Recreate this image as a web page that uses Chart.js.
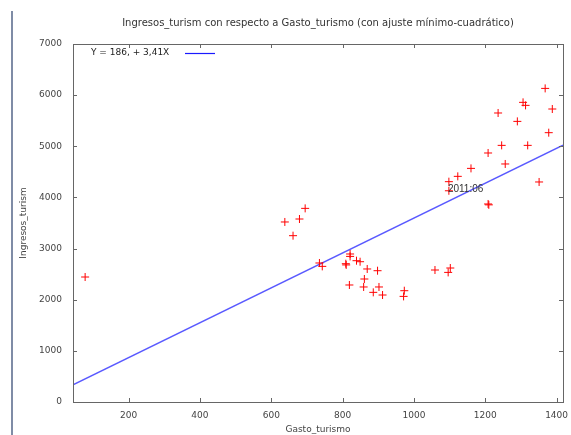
<!DOCTYPE html>
<html>
<head>
<meta charset="utf-8">
<script src="https://cdn.jsdelivr.net/npm/chart.js@4/dist/chart.umd.min.js"></script>
<style>
  body { margin: 0; background: #fff; }
  #wrap { position: relative; width: 571px; height: 435px; }
  #edge { position: absolute; left: 11px; top: 11px; width: 2px; height: 424px; background: #7f8ca6; }
</style>
</head>
<body>
<div id="wrap">
  <canvas id="myChart" width="571" height="435"></canvas>
  <div id="edge"></div>
</div>
<script>
// Gasto_turismo (x) vs Ingresos_turism (y), one point per month
const gasto = [
  78, 638, 661, 679, 695, 735, 743, 809, 810, 821, 821, 839, 849, 869, 898,
  819, 861, 859, 902, 886, 912, 973, 971, 1059, 1102, 1096, 1098, 1098, 1123,
  1160, 1208, 1208, 1210, 1236, 1246, 1256, 1290, 1306, 1313, 1319, 1351,
  1368, 1378, 1388
];
const ingresos = [
  2444, 3520, 3252, 3578, 3786, 2718, 2652, 2704, 2680, 2894, 2847, 2763, 2743,
  2601, 2567, 2288, 2405, 2249, 2249, 2144, 2092, 2176, 2065, 2581, 2620, 2534,
  4308, 4130, 4412, 4568, 4869, 3872, 3855, 5651, 5018, 4654, 5487, 5859, 5800,
  5018, 4302, 6132, 5266, 5729
];
// point that carries an observation label
const markedIndex = 27;
const markedLabel = "2011:06";

// least-squares fit shown in the key
const intercept = 186;
const slope = 3.41;
const fitLabel = "Y = 186, + 3,41X";

const chartTitle = "Ingresos_turism con respecto a Gasto_turismo (con ajuste mínimo-cuadrático)";
const xRange = [44, 1418];
const yRange = [0, 7000];
const xTicks = [200, 400, 600, 800, 1000, 1200, 1400];
const yTicks = [0, 1000, 2000, 3000, 4000, 5000, 6000, 7000];

const points = gasto.map((g, i) => ({ x: g, y: ingresos[i] }));
const fitLine = xRange.map(x => ({ x: x, y: intercept + slope * x }));

const txt = "#444";
const baseFont = { family: "DejaVu Sans", size: 9 };

// frame with inward ticks on all four sides, title, key and point label
const framePlugin = {
  id: "frame",
  afterDraw(chart) {
    const { ctx, chartArea: a, scales } = chart;
    ctx.save();
    ctx.strokeStyle = "#666";
    ctx.lineWidth = 1;
    ctx.strokeRect(Math.round(a.left) + 0.5, Math.round(a.top) + 0.5,
      Math.round(a.right - a.left), Math.round(a.bottom - a.top));
    ctx.beginPath();
    xTicks.forEach(v => {
      const px = Math.round(scales.x.getPixelForValue(v)) + 0.5;
      ctx.moveTo(px, a.bottom); ctx.lineTo(px, a.bottom - 4);
      ctx.moveTo(px, a.top); ctx.lineTo(px, a.top + 4);
    });
    yTicks.forEach(v => {
      const py = Math.round(scales.y.getPixelForValue(v)) + 0.5;
      ctx.moveTo(a.left, py); ctx.lineTo(a.left + 4, py);
      ctx.moveTo(a.right, py); ctx.lineTo(a.right - 4, py);
    });
    ctx.stroke();

    // title, centred over the plot
    ctx.font = "10px 'DejaVu Sans'";
    ctx.fillStyle = "#333";
    ctx.textBaseline = "middle";
    ctx.textAlign = "center";
    ctx.fillText(chartTitle, (a.left + a.right) / 2, 23);

    // key
    ctx.font = "9px 'DejaVu Sans'";
    ctx.fillStyle = "#222";
    ctx.textAlign = "left";
    ctx.fillText(fitLabel, a.left + 18, a.top + 9);
    ctx.strokeStyle = "#1a1aff";
    ctx.lineWidth = 1.2;
    ctx.beginPath();
    ctx.moveTo(a.left + 112, a.top + 9.5);
    ctx.lineTo(a.left + 142, a.top + 9.5);
    ctx.stroke();

    // observation label
    const p = points[markedIndex];
    ctx.font = "10px 'Liberation Sans'";
    ctx.fillStyle = "#333";
    ctx.fillText(markedLabel, scales.x.getPixelForValue(p.x) - 1,
      scales.y.getPixelForValue(p.y) - 2);
    ctx.restore();
  }
};

const ctx = document.getElementById("myChart");
const chart = new Chart(ctx, {
  type: "scatter",
  data: {
    datasets: [
      {
        label: "Ingresos_turism",
        data: points,
        pointStyle: "cross",
        pointRadius: 4,
        borderColor: "#ff0000",
        backgroundColor: "#ff0000",
        borderWidth: 1,
      },
      {
        label: fitLabel,
        data: fitLine,
        showLine: true,
        pointRadius: 0,
        borderColor: "rgba(60,60,255,0.85)",
        borderWidth: 1.3,
      },
    ],
  },
  options: {
    responsive: false,
    animation: false,
    layout: { padding: { left: 0, right: 8, top: 44, bottom: 0 } },
    plugins: {
      legend: { display: false },
      tooltip: { enabled: false },
      title: { display: false },
    },
    scales: {
      x: {
        type: "linear",
        min: xRange[0],
        max: xRange[1],
        afterBuildTicks: s => { s.ticks = xTicks.map(v => ({ value: v })); },
        afterFit: s => { s.height = 33; s.paddingLeft = 0; s.paddingRight = 0; },
        grid: { display: false, drawTicks: false },
        border: { display: false },
        ticks: { color: txt, font: baseFont, padding: 8, maxRotation: 0, callback: v => String(v) },
        title: { display: true, text: "Gasto_turismo", color: txt, font: baseFont, padding: 0 },
      },
      y: {
        type: "linear",
        min: yRange[0],
        max: yRange[1],
        afterBuildTicks: s => { s.ticks = yTicks.map(v => ({ value: v })); },
        afterFit: s => { s.width = 73; s.paddingTop = 0; s.paddingBottom = 0; },
        grid: { display: false, drawTicks: false },
        border: { display: false },
        ticks: { color: txt, font: baseFont, padding: 11, callback: v => String(v) },
        title: { display: true, text: "Ingresos_turism", color: txt, font: baseFont, padding: { top: 18 } },
      },
    },
  },
  plugins: [framePlugin],
});
</script>
</body>
</html>
